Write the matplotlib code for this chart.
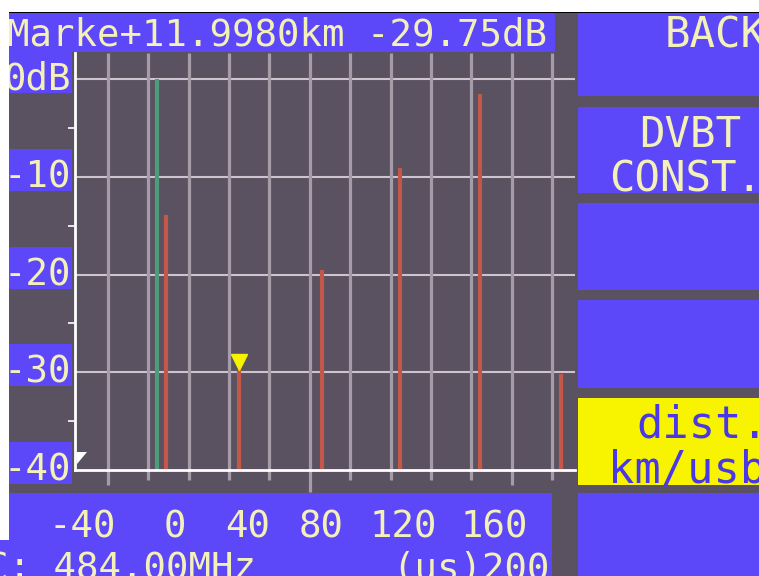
import matplotlib
matplotlib.use("Agg")
import matplotlib.pyplot as plt
from matplotlib.patches import Rectangle, Polygon
import matplotlib.transforms as mtransforms

# ---- measurement data -------------------------------------------------
main_delay_us = [-5.0]
main_level_db = [0.0]
echo_delay_us = [0.0, 40.0, 85.0, 128.0, 172.0, 216.0]
echo_level_db = [-13.9, -29.75, -19.5, -9.1, -1.5, -30.2]
marker_delay_us = 40.0
marker_level_db = -29.75
marker_dist_km = 11.9980

y_label_values = [0, -10, -20, -30, -40]
y_label_texts = ["0dB", "-10", "-20", "-30", "-40"]
x_tick_texts = ["-40", "0", "40", "80", "120", "160"]
centre_freq_text = "C: 484.00MHz"
x_unit_text = "(us)200"
softkeys = ["BACK", "DVBT", "CONST."]
active_key = ["dist.", "km/usb"]

# ---- layout (pixels, origin top-left) ----------------------------------
W, H = 759, 576
BG = "#5a5260"
BLUE = "#5c48f8"
YEL = "#f7f300"
TXT = "#f4f1b8"
MONO = "DejaVu Sans Mono"

fig = plt.figure(figsize=(W / 100, H / 100), dpi=100)
fig.patch.set_facecolor("white")


def rect(x0, y0, x1, y1, color, z=-5):
    fig.patches.append(Rectangle((x0 / W, 1 - y1 / H), (x1 - x0) / W, (y1 - y0) / H,
                                 transform=fig.transFigure, facecolor=color,
                                 edgecolor="none", zorder=z))


def text(x, y, s, **kw):
    kw.setdefault("family", MONO)
    kw.setdefault("color", TXT)
    kw.setdefault("va", "baseline")
    kw.setdefault("zorder", 5)
    fig.text(x / W, 1 - y / H, s, **kw)


# screen background
rect(0, 12, W, H, BG, z=-10)

# header bar with marker readout
rect(9, 13, 555, 52, BLUE)
text(7, 45, f"Marke+{marker_dist_km:.4f}km {marker_level_db:.2f}dB", fontsize=26.9)

# right-hand soft-key panels
panels = [(13, 96), (107, 193), (203, 290), (300, 388)]
for y0, y1 in panels:
    rect(578, y0, W, y1, BLUE)
rect(578, 398, W, 485, "#f8f400")
rect(578, 493, W, H, BLUE)
text(665, 47, softkeys[0], fontsize=30.5)
text(639, 147, softkeys[1], fontsize=30.5)
text(609, 191, softkeys[2], fontsize=30.5)
text(636, 437, active_key[0], fontsize=31.5, color="#4a38e8")
text(608, 482, active_key[1], fontsize=31.5, color="#4a38e8")

# bottom strip: time axis labels and centre frequency
rect(0, 493, 552, H, BLUE)
tick_label_px = [82, 175, 248, 321, 403, 494]
for s, xc in zip(x_tick_texts, tick_label_px):
    text(xc, 537, s, fontsize=26.9, ha="center")
text(-13.5, 579, centre_freq_text, fontsize=26.9)
text(392, 579, x_unit_text, fontsize=26.9)

# ---- echo profile axes -------------------------------------------------
AX_L, AX_R, AX_T, AX_B = 75, 575, 53, 470
ax = fig.add_axes([AX_L / W, 1 - AX_B / H, (AX_R - AX_L) / W, (AX_B - AX_T) / H])
ax.set_zorder(1)
ax.patch.set_visible(False)
ax.set_xlim(-50.1, 223.8)
ax.set_ylim(-40, 2.66)

for s in ("top", "right"):
    ax.spines[s].set_visible(False)
for s in ("left", "bottom"):
    ax.spines[s].set_color("white")
    ax.spines[s].set_linewidth(2.0)
    ax.spines[s].set_zorder(3)

ax.set_xticks([])
ax.set_yticks([-35, -25, -15, -5])
ax.set_yticklabels([])
ax.tick_params(axis="y", direction="out", length=5, width=1.4, color="#e8e4ea")

# horizontal graticule
for v in y_label_values[:-1]:
    ax.axhline(v, color="#ccc5ce", lw=1.5, zorder=1)

# vertical graticule, extending below the baseline as tick marks
n_div = 12
first_px, step_px = 108.0, 40.36
tick_end_px = [485, 480, 480, 480, 480, 492, 480, 480, 480, 480, 485, 480]
for k in range(n_div):
    f = (first_px + k * step_px - AX_L) / (AX_R - AX_L)
    y_low = -(tick_end_px[k] - AX_B) / (AX_B - AX_T)
    ax.plot([f, f], [y_low, 1], transform=ax.transAxes, color="#a69ca8",
            lw=2.3, clip_on=False, zorder=1, solid_capstyle="butt")

# impulse lines
ax.vlines(main_delay_us, -40, main_level_db, color="#4f9c7c", lw=3.0, zorder=2)
ax.vlines(echo_delay_us, -40, echo_level_db, color="#c2574a", lw=3.0, zorder=2)

# marker triangle sitting on the marked echo
mk_tr = mtransforms.offset_copy(ax.transData, fig=fig, y=8, units="dots")
ax.plot([marker_delay_us], [marker_level_db], marker="v", ms=11, color=YEL,
        mec=YEL, transform=mk_tr, zorder=4, clip_on=False)

# small reference flag at the bottom-left corner
flag_px = [(76, 452), (87, 452), (77, 464)]
flag = [((x - AX_L) / (AX_R - AX_L), (AX_B - y) / (AX_B - AX_T)) for x, y in flag_px]
ax.add_patch(Polygon(flag, closed=True, transform=ax.transAxes, facecolor="white",
                     edgecolor="none", zorder=4, clip_on=False))

# ---- level labels on the left, aligned to the graticule ----------------
fig.canvas.draw()
for v, s in zip(y_label_values, y_label_texts):
    gy = H - ax.transData.transform((0, v))[1]
    rect(9, gy - 28, 72, gy + 14, BLUE)
    text(71, gy + 10.5, s, fontsize=26.9, ha="right")

# white frame around the captured screen
rect(0, 0, W, 12, "white", z=10)
rect(0, 11.5, W, 13, "black", z=10)
rect(0, 0, 9, 540, "white", z=10)

fig.savefig("out.png", dpi=100, facecolor=fig.get_facecolor())
